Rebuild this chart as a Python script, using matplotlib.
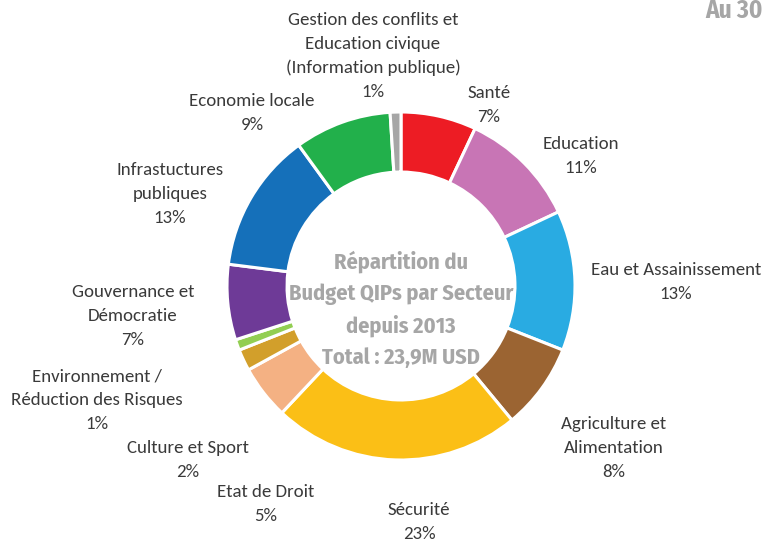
import numpy as np
import matplotlib
matplotlib.use('Agg')
import matplotlib.pyplot as plt
from matplotlib import font_manager
import logging
logging.getLogger('matplotlib.font_manager').setLevel(logging.ERROR)

# sectors, clockwise from 12 o'clock
sectors = ['Santé', 'Education', 'Eau et Assainissement', 'Agriculture et\nAlimentation',
           'Sécurité', 'Etat de Droit', 'Culture et Sport',
           'Environnement /\nRéduction des Risques', 'Gouvernance et\nDémocratie',
           'Infrastuctures\npubliques', 'Economie locale',
           'Gestion des conflits et\nEducation civique\n(Information publique)']
shares = [7, 11, 13, 8, 23, 5, 2, 1, 7, 13, 9, 1]
colors = ['#ED1C24', '#C875B5', '#29ABE2', '#9B6432', '#FBBF16', '#F4B183',
          '#D29F2B', '#92CE52', '#6E3A97', '#1570BA', '#22B04B', '#A6A6A6']

center_title = 'Répartition du\nBudget QIPs par Secteur\ndepuis 2013\nTotal : 23,9M USD'

# label anchor (pixel coords, centre of first line)
label_pos = [(489, 93), (581, 144), (676, 270), (614, 424), (419, 510), (266, 492),
             (188, 448), (97, 376), (133, 292), (170, 170), (252, 101), (373, 20)]

# Calibri-like font if there is one
try:
    font_manager.findfont('Carlito', fallback_to_default=False)
    fam, fsize = ['Carlito', 'DejaVu Sans'], 13.6
except ValueError:
    fam, fsize = ['Open Sans', 'DejaVu Sans'], 11.8

W, H = 765, 542
fig = plt.figure(figsize=(W/100, H/100), dpi=100)
ax = fig.add_axes([0, 0, 1, 1])

cx, cy, R = 401, H - 286, 174
ax.pie(shares, colors=colors, startangle=90, counterclock=False,
       center=(cx, cy), radius=R, frame=True,
       wedgeprops=dict(width=R*0.345, edgecolor='white', linewidth=2.2))
ax.set_xlim(0, W)
ax.set_ylim(0, H)
ax.set_aspect('equal')
ax.axis('off')

for name, val, (x, y) in zip(sectors, shares, label_pos):
    lines = ('%s\n%d%%' % (name, val)).split('\n')
    for i, ln in enumerate(lines):
        ax.text(x, H - y - 24*i, ln, ha='center', va='center',
                fontsize=fsize, color='#3A3A3A', family=fam)

cond = ['Fira Sans Condensed', 'PT Sans Narrow', 'Roboto Condensed',
        'Archivo Narrow', 'Liberation Sans Narrow', 'Roboto', 'DejaVu Sans']
for i, ln in enumerate(center_title.split('\n')):
    ax.text(cx, H - 262 - 32*i, ln, ha='center', va='center', fontsize=16,
            fontweight='bold', color='#A6A6A6', family=cond)

ax.text(705, H - 11, 'Au 30', ha='left', va='center', fontsize=18,
        fontweight='bold', color='#A6A6A6', family=cond)

plt.savefig('out.png', dpi=100)
